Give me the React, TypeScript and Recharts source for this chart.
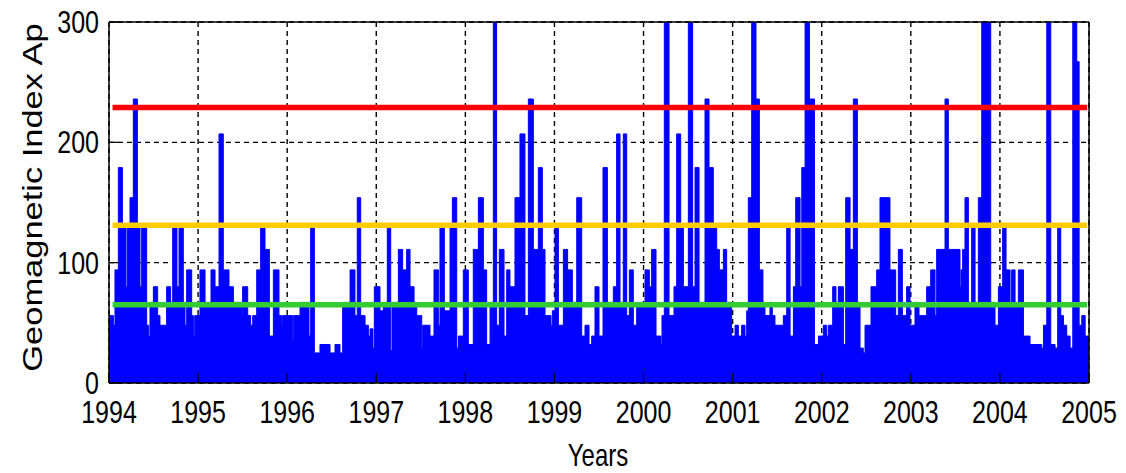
import React from "react";
import { AreaChart, Area, XAxis, YAxis, CartesianGrid, ReferenceLine, Label } from "recharts";

// Time (decimal year) where each step of the Ap envelope starts
const stepYears = [
  1994.000, 1994.049, 1994.067, 1994.105, 1994.150, 1994.191, 1994.206, 1994.236, 1994.273, 1994.318,
  1994.348, 1994.367, 1994.423, 1994.445, 1994.460, 1994.498, 1994.546, 1994.572, 1994.647, 1994.692,
  1994.715, 1994.763, 1994.786, 1994.834, 1994.853, 1994.872, 1994.928, 1994.947, 1994.962, 1995.021,
  1995.078, 1995.145, 1995.190, 1995.235, 1995.283, 1995.347, 1995.396, 1995.489, 1995.500, 1995.557,
  1995.590, 1995.613, 1995.658, 1995.702, 1995.751, 1995.800, 1995.845, 1995.908, 1995.938, 1995.949,
  1996.062, 1996.073, 1996.144, 1996.245, 1996.264, 1996.305, 1996.368, 1996.481, 1996.537, 1996.593,
  1996.623, 1996.706, 1996.761, 1996.787, 1996.825, 1996.874, 1996.911, 1996.930, 1996.963, 1996.978,
  1997.042, 1997.079, 1997.124, 1997.162, 1997.177, 1997.248, 1997.296, 1997.341, 1997.379, 1997.424,
  1997.454, 1997.510, 1997.521, 1997.603, 1997.648, 1997.697, 1997.715, 1997.764, 1997.828, 1997.854,
  1997.903, 1997.921, 1997.977, 1998.033, 1998.089, 1998.146, 1998.202, 1998.239, 1998.277, 1998.314,
  1998.351, 1998.381, 1998.434, 1998.464, 1998.501, 1998.557, 1998.613, 1998.669, 1998.707, 1998.763,
  1998.819, 1998.864, 1998.894, 1998.961, 1998.976, 1999.006, 1999.044, 1999.100, 1999.148, 1999.201,
  1999.250, 1999.306, 1999.343, 1999.388, 1999.418, 1999.455, 1999.500, 1999.545, 1999.594, 1999.661,
  1999.698, 1999.736, 1999.773, 1999.811, 1999.841, 1999.885, 1999.923, 2000.016, 2000.065, 2000.091,
  2000.140, 2000.196, 2000.207, 2000.233, 2000.286, 2000.342, 2000.372, 2000.417, 2000.447, 2000.503,
  2000.551, 2000.578, 2000.623, 2000.690, 2000.735, 2000.783, 2000.821, 2000.851, 2000.896, 2000.933,
  2000.989, 2001.027, 2001.064, 2001.101, 2001.139, 2001.158, 2001.176, 2001.214, 2001.262, 2001.300,
  2001.340, 2001.363, 2001.419, 2001.445, 2001.475, 2001.569, 2001.607, 2001.645, 2001.682, 2001.708,
  2001.757, 2001.776, 2001.813, 2001.862, 2001.918, 2001.963, 2002.018, 2002.056, 2002.074, 2002.123,
  2002.160, 2002.186, 2002.243, 2002.269, 2002.318, 2002.355, 2002.400, 2002.430, 2002.467, 2002.486,
  2002.553, 2002.617, 2002.654, 2002.766, 2002.830, 2002.860, 2002.905, 2002.953, 2002.991, 2003.047,
  2003.092, 2003.178, 2003.223, 2003.272, 2003.290, 2003.384, 2003.421, 2003.552, 2003.563, 2003.582,
  2003.608, 2003.646, 2003.683, 2003.721, 2003.758, 2003.796, 2003.897, 2003.945, 2003.983, 2004.031,
  2004.069, 2004.114, 2004.132, 2004.170, 2004.207, 2004.264, 2004.338, 2004.470, 2004.489, 2004.526,
  2004.571, 2004.619, 2004.649, 2004.683, 2004.713, 2004.750, 2004.788, 2004.818, 2004.863, 2004.889,
  2004.919, 2004.957, 2005.000,
];

// Geomagnetic index Ap level of each step
const apValues = [
  56, 48, 94, 179, 132, 80, 132, 154, 236, 132,
  80, 132, 48, 39, 67, 80, 56, 48, 80, 67,
  132, 80, 132, 67, 48, 94, 56, 39, 56, 94,
  67, 94, 80, 207, 94, 80, 67, 56, 80, 56,
  48, 56, 94, 132, 111, 39, 94, 56, 48, 56,
  36, 56, 67, 39, 132, 25, 32, 25, 32, 25,
  67, 94, 56, 154, 56, 48, 39, 45, 29, 80,
  60, 67, 132, 27, 67, 111, 94, 111, 80, 67,
  56, 29, 48, 39, 94, 48, 132, 60, 132, 154,
  29, 39, 94, 32, 111, 154, 94, 32, 67, 400,
  48, 111, 39, 94, 80, 154, 207, 56, 236, 111,
  179, 111, 56, 48, 60, 132, 48, 111, 94, 67,
  154, 39, 48, 32, 39, 80, 39, 179, 67, 80,
  207, 67, 207, 56, 94, 48, 67, 94, 80, 111,
  39, 32, 56, 400, 56, 80, 207, 132, 80, 400,
  80, 179, 67, 236, 179, 132, 111, 94, 111, 67,
  39, 48, 39, 48, 39, 60, 154, 400, 236, 94,
  67, 56, 67, 56, 48, 56, 132, 39, 80, 154,
  80, 179, 400, 236, 32, 39, 48, 39, 48, 80,
  67, 80, 32, 154, 111, 236, 67, 29, 25, 48,
  80, 94, 154, 94, 56, 111, 56, 80, 48, 67,
  56, 80, 94, 56, 111, 236, 111, 80, 94, 111,
  154, 67, 132, 67, 154, 400, 67, 48, 80, 132,
  94, 67, 94, 67, 94, 39, 32, 29, 48, 400,
  32, 29, 132, 56, 48, 39, 29, 400, 267, 48,
  56, 39, 39,
];

const yearTicks = [1994, 1995, 1996, 1997, 1998, 1999, 2000, 2001, 2002, 2003, 2004, 2005];
const apTicks = [0, 100, 200, 300];

const thresholdLevels = [229, 131, 65];
const thresholdColors = ["#ff0000", "#ffcc00", "#33cc33"];
const thresholdStart = 1994.04;
const thresholdEnd = 2004.98;

const data = stepYears.map((t, i) => ({ t, ap: apValues[i] }));

const FONT = "'Liberation Sans', Arial, Helvetica, sans-serif";

const XTick = (props: any) => {
  const { x, payload } = props;
  return (
    <text
      transform={`translate(${x},423) scale(1,1.27)`}
      textAnchor="middle"
      fontSize={25}
      fontFamily={FONT}
      fill="#000"
    >
      {payload.value}
    </text>
  );
};

const YTick = (props: any) => {
  const { y, payload } = props;
  return (
    <text
      transform={`translate(99,${y + 11}) scale(1,1.25)`}
      textAnchor="end"
      fontSize={25}
      fontFamily={FONT}
      fill="#000"
    >
      {payload.value}
    </text>
  );
};

export default function App() {
  return (
    <div style={{ position: "absolute", left: 0, top: 0, width: 1126, height: 473, background: "#fff" }}>
      <AreaChart
        width={1126}
        height={473}
        data={data}
        margin={{ top: 12, right: 27, bottom: 0, left: 0 }}
      >
        <CartesianGrid stroke="#000" strokeWidth={1.4} strokeDasharray="5 4" />
        <Area
          type="stepAfter"
          dataKey="ap"
          stroke="#0000ff"
          strokeWidth={1}
          fill="#0000ff"
          fillOpacity={1}
          dot={false}
          activeDot={false}
          isAnimationActive={false}
        />
        {thresholdLevels.map((lvl, i) => (
          <ReferenceLine
            key={i}
            segment={[
              { x: thresholdStart, y: lvl },
              { x: thresholdEnd, y: lvl },
            ]}
            stroke={thresholdColors[i]}
            strokeWidth={5.5}
          />
        ))}
        <XAxis
          dataKey="t"
          type="number"
          domain={[1994, 2005]}
          ticks={yearTicks}
          allowDataOverflow
          height={90}
          stroke="#000"
          axisLine={{ stroke: "#000", strokeWidth: 1.5 }}
          tickLine={{ stroke: "#000", strokeWidth: 1.2 }}
          tickSize={-10}
          tick={<XTick />}
          interval={0}
        >
          <Label
            content={() => (
              <text
                transform="translate(598,465.5) scale(1,1.3)"
                textAnchor="middle"
                fontSize={24}
                fontFamily={FONT}
                fill="#000"
              >
                Years
              </text>
            )}
          />
        </XAxis>
        <XAxis
          xAxisId="top"
          orientation="top"
          type="number"
          domain={[1994, 2005]}
          ticks={yearTicks}
          height={10}
          axisLine={{ stroke: "#000", strokeWidth: 1.5 }}
          tickLine={{ stroke: "#000", strokeWidth: 1.2 }}
          tickSize={-10}
          tick={false}
        />
        <YAxis
          type="number"
          domain={[0, 300]}
          ticks={apTicks}
          allowDataOverflow
          width={109}
          axisLine={{ stroke: "#000", strokeWidth: 1.5 }}
          tickLine={{ stroke: "#000", strokeWidth: 1.2 }}
          tickSize={-10}
          tick={<YTick />}
          interval={0}
        >
          <Label
            content={() => (
              <text
                transform="translate(41.5,197.5) rotate(-90) scale(1.23,1)"
                textAnchor="middle"
                fontSize={28}
                fontFamily={FONT}
                fill="#000"
              >
                Geomagnetic Index Ap
              </text>
            )}
          />
        </YAxis>
        <YAxis
          yAxisId="right"
          orientation="right"
          type="number"
          domain={[0, 300]}
          ticks={apTicks}
          width={10}
          axisLine={{ stroke: "#000", strokeWidth: 1.5 }}
          tickLine={{ stroke: "#000", strokeWidth: 1.2 }}
          tickSize={-10}
          tick={false}
        />
      </AreaChart>
    </div>
  );
}
